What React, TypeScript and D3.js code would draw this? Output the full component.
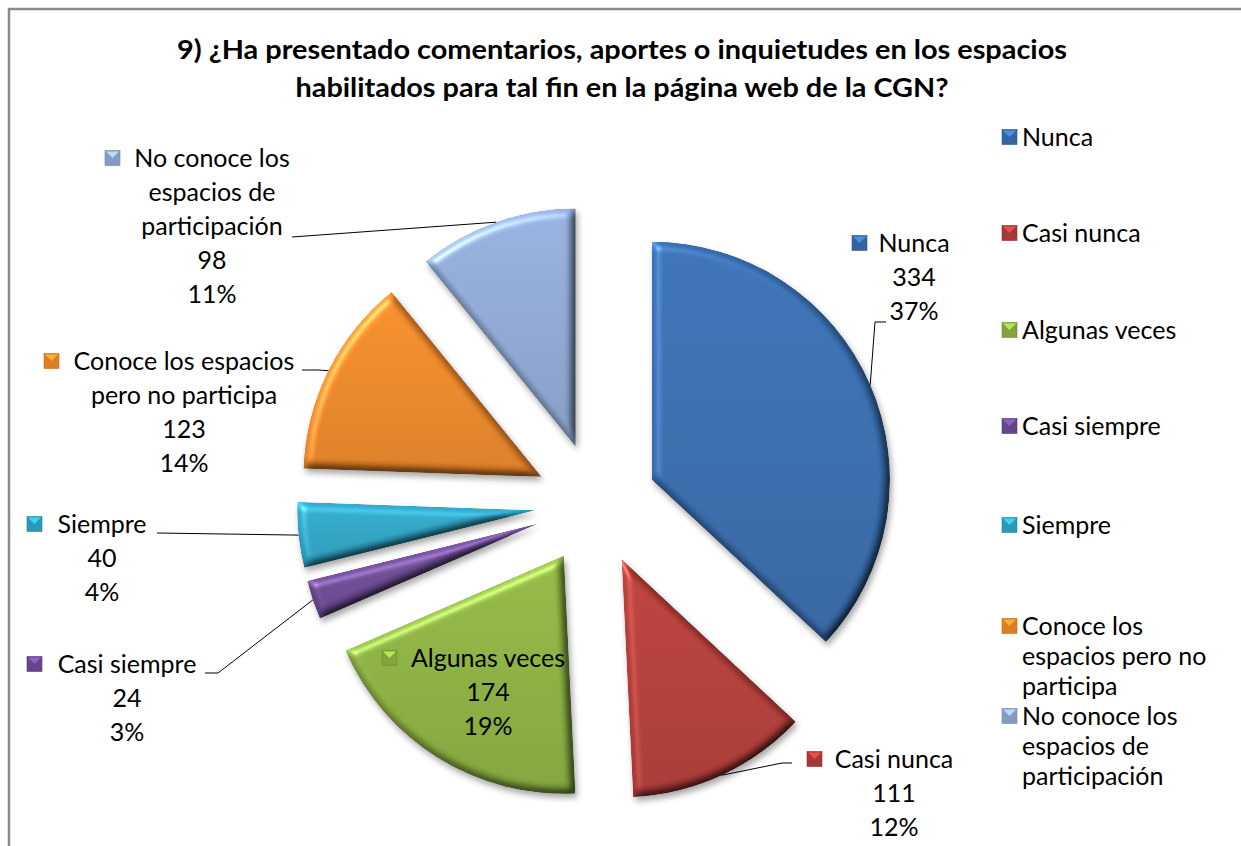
import React from "react";
import * as d3 from "d3";

const categories = [
  "Nunca",
  "Casi nunca",
  "Algunas veces",
  "Casi siempre",
  "Siempre",
  "Conoce los espacios pero no participa",
  "No conoce los espacios de participación",
];
const values = [334, 111, 174, 24, 40, 123, 98];
const colors = ["#386cad", "#b33d39", "#8bb041", "#6d4b95", "#2fa4c4", "#ec8728", "#8ea8d3"];
const legendLines = [
  ["Nunca"],
  ["Casi nunca"],
  ["Algunas veces"],
  ["Casi siempre"],
  ["Siempre"],
  ["Conoce los", "espacios pero no", "participa"],
  ["No conoce los", "espacios de", "participación"],
];
const labelLines = [
  ["Nunca"],
  ["Casi nunca"],
  ["Algunas veces"],
  ["Casi siempre"],
  ["Siempre"],
  ["Conoce los espacios", "pero no participa"],
  ["No conoce los", "espacios de", "participación"],
];
const titleLines = [
  "9) ¿Ha presentado comentarios, aportes o inquietudes en los espacios",
  "habilitados para tal fin en la página web de la CGN?",
];

// layout (positions only)
const W = 1241, H = 846;
const CX = 596, CY = 504, R = 238, EXPLODE = 61;
const FONT = "Lato, 'Open Sans', sans-serif";
const FS = 25;
const MS = 15; // marker size
const labelLayout = [
  { tx: 880, cx: 914, y0: 252, leader: [[875, 322], [886, 322]] },
  { tx: 835, cx: 894, y0: 768, leader: [[782, 763], [792, 763]] },
  { tx: 410, cx: 488, y0: 667, leader: null },
  { tx: 55, cx: 127, y0: 673, leader: [[218, 673], [205, 673]] },
  { tx: 55, cx: 102, y0: 533, leader: [[157, 533]] },
  { tx: 72, cx: 184, y0: 370, leader: [[318, 370], [302, 370]] },
  { tx: 133, cx: 212, y0: 167, leader: [[292, 237]] },
];
const LH = 34;
const legendX = 1002;
const legendY = [146, 242, 339, 435, 534, 635, 725];
const legendLH = 30;

function Marker({ x, y, color }: { x: number; y: number; color: string }) {
  const c = d3.color(color)!;
  return (
    <g>
      <rect x={x} y={y} width={MS} height={MS} fill={c.darker(0.2).toString()} stroke={c.darker(0.6).toString()} strokeWidth={0.6} />
      <path d={`M${x + 1},${y + 1}L${x + MS - 1},${y + 1}L${x + MS / 2},${y + MS / 2}Z`} fill={c.brighter(0.9).toString()} opacity={0.85} />
    </g>
  );
}

export default function App() {
  const total = d3.sum(values);
  const pct = d3.format(".0%");
  const pie = d3.pie<number>().sort(null).value((d) => d)(values);
  const arc = d3.arc<d3.PieArcDatum<number>>().innerRadius(0).outerRadius(R);

  const slices = pie.map((p, i) => {
    const mid = (p.startAngle + p.endAngle) / 2;
    const ox = CX + Math.sin(mid) * EXPLODE;
    const oy = CY - Math.cos(mid) * EXPLODE;
    const edge = [ox + Math.sin(mid) * R, oy - Math.cos(mid) * R];
    return { p, i, ox, oy, edge };
  });

  return (
    <svg width={W} height={H} style={{ position: "absolute", left: 0, top: 0, background: "#fff" }} fontFamily={FONT}>
      <defs>
        <filter id="bevel" x="-15%" y="-15%" width="135%" height="135%" colorInterpolationFilters="sRGB">
          <feGaussianBlur in="SourceAlpha" stdDeviation="4" result="blur" />
          <feDiffuseLighting in="blur" surfaceScale="5" diffuseConstant="1" lightingColor="#ffffff" result="diff">
            <feDistantLight azimuth={225} elevation={60} />
          </feDiffuseLighting>
          <feComposite in="SourceGraphic" in2="diff" operator="arithmetic" k1={1.15} k2={0} k3={0} k4={0} result="shaded" />
          <feComposite in="shaded" in2="SourceAlpha" operator="in" result="shadedIn" />
          <feSpecularLighting in="blur" surfaceScale="5" specularConstant="0.6" specularExponent="30" lightingColor="#ffffff" result="spec">
            <feDistantLight azimuth={225} elevation={45} />
          </feSpecularLighting>
          <feComposite in="spec" in2="SourceAlpha" operator="in" result="specIn" />
          <feComposite in="shadedIn" in2="specIn" operator="arithmetic" k1={0} k2={1} k3={0.45} k4={0} result="lit" />
          <feGaussianBlur in="SourceAlpha" stdDeviation="3" result="sb" />
          <feOffset in="sb" dx="2" dy="4" result="so" />
          <feComponentTransfer in="so" result="shadow">
            <feFuncA type="linear" slope={0.35} />
          </feComponentTransfer>
          <feMerge>
            <feMergeNode in="shadow" />
            <feMergeNode in="lit" />
          </feMerge>
        </filter>
        {colors.map((c, i) => (
          <linearGradient key={i} id={`g${i}`} x1="0" y1="0" x2="0" y2="1">
            <stop offset="0" stopColor={d3.color(c)!.brighter(0.12).toString()} />
            <stop offset="1" stopColor={d3.color(c)!.darker(0.25).toString()} />
          </linearGradient>
        ))}
      </defs>

      <path d={`M9,${H}L9,9L${W},9`} fill="none" stroke="#8a8a8a" strokeWidth={2.5} />

      {titleLines.map((t, i) => (
        <text key={i} x={622} y={59 + i * 38} textAnchor="middle" fontSize={27} fontWeight="bold" fill="#000"
          textLength={i === 0 ? 890 : 653} lengthAdjust="spacingAndGlyphs">
          {t}
        </text>
      ))}

      {slices.map(({ p, i, ox, oy }) => (
        <path key={i} d={arc(p) || ""} transform={`translate(${ox},${oy})`} fill={`url(#g${i})`} filter="url(#bevel)" />
      ))}

      {slices.map(({ i, edge }) => {
        const L = labelLayout[i].leader;
        if (!L) return null;
        const pts = [edge, ...L];
        return <path key={i} d={d3.line()(pts as [number, number][]) || ""} fill="none" stroke="#000" strokeWidth={1} />;
      })}

      {slices.map(({ i }) => {
        const L = labelLayout[i];
        const lines = [...labelLines[i], String(values[i]), pct(values[i] / total)];
        return (
          <g key={i} fontSize={FS} fill="#000">
            <Marker x={L.tx - 13 - MS} y={L.y0 - 9 - MS / 2} color={colors[i]} />
            {lines.map((t, j) => (
              <text key={j} x={L.cx} y={L.y0 + j * LH} textAnchor="middle">{t}</text>
            ))}
          </g>
        );
      })}

      {categories.map((c, i) => (
        <g key={i} fontSize={FS} fill="#000">
          <Marker x={legendX} y={legendY[i] - 9 - MS / 2} color={colors[i]} />
          {legendLines[i].map((t, j) => (
            <text key={j} x={legendX + MS + 5} y={legendY[i] + j * legendLH}>{t}</text>
          ))}
        </g>
      ))}
    </svg>
  );
}
